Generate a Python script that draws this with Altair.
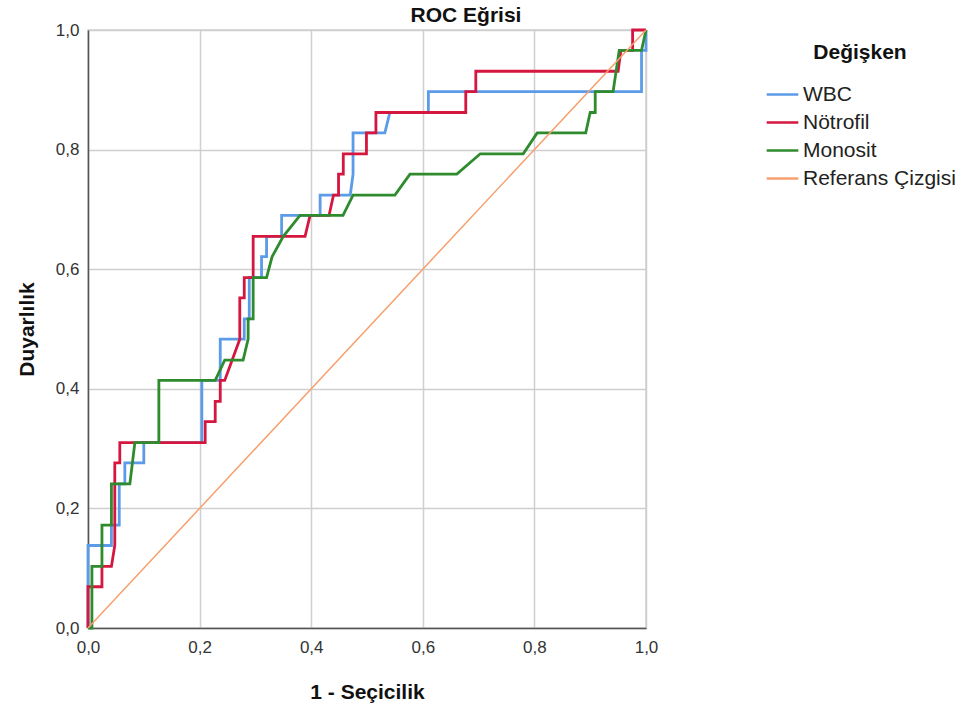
import altair as alt
import pandas as pd

series_names = ["WBC", "Nötrofil", "Monosit", "Referans Çizgisi"]
series_colors = ["#5b9be8", "#d5163f", "#2e8b2e", "#f5a06e"]

wbc_x = [0, 0, 0.042, 0.042, 0.056, 0.056, 0.066, 0.066, 0.100, 0.100, 0.204, 0.204, 0.237, 0.237,
         0.280, 0.280, 0.289, 0.289, 0.311, 0.311, 0.320, 0.320, 0.347, 0.347, 0.416, 0.416,
         0.470, 0.475, 0.475, 0.532, 0.541, 0.610, 0.610, 0.992, 0.992, 1.0, 1.0]
wbc_y = [0, 0.138, 0.138, 0.172, 0.172, 0.241, 0.241, 0.276, 0.276, 0.310, 0.310, 0.414, 0.414, 0.483,
         0.483, 0.517, 0.517, 0.586, 0.586, 0.621, 0.621, 0.655, 0.655, 0.690, 0.690, 0.724,
         0.724, 0.759, 0.828, 0.828, 0.862, 0.862, 0.897, 0.897, 0.966, 0.966, 1.0]

neu_x = [0, 0, 0.025, 0.025, 0.042, 0.048, 0.048, 0.057, 0.057, 0.210, 0.210, 0.228, 0.228, 0.237,
         0.237, 0.245, 0.272, 0.272, 0.280, 0.280, 0.296, 0.296, 0.389, 0.398, 0.432, 0.440,
         0.449, 0.449, 0.4575, 0.4575, 0.499, 0.499, 0.516, 0.516, 0.677, 0.677, 0.695, 0.695,
         0.950, 0.955, 0.976, 0.976, 1.0]
neu_y = [0, 0.069, 0.069, 0.103, 0.103, 0.138, 0.276, 0.276, 0.310, 0.310, 0.345, 0.345, 0.379, 0.379,
         0.414, 0.414, 0.483, 0.552, 0.552, 0.586, 0.586, 0.655, 0.655, 0.690, 0.690, 0.724,
         0.724, 0.759, 0.759, 0.793, 0.793, 0.828, 0.828, 0.862, 0.862, 0.897, 0.897, 0.931,
         0.931, 0.966, 0.966, 1.0, 1.0]

mono_x = [0, 0.007, 0.007, 0.025, 0.025, 0.042, 0.042, 0.075, 0.084, 0.127, 0.127, 0.228, 0.245,
          0.278, 0.287, 0.287, 0.296, 0.296, 0.320, 0.330, 0.350, 0.380, 0.457, 0.475, 0.550,
          0.577, 0.661, 0.703, 0.780, 0.805, 0.892, 0.900, 0.909, 0.909, 0.941, 0.952, 0.992, 1.0]
mono_y = [0, 0, 0.103, 0.103, 0.172, 0.172, 0.241, 0.241, 0.310, 0.310, 0.414, 0.414, 0.448,
          0.448, 0.483, 0.517, 0.517, 0.586, 0.586, 0.621, 0.655, 0.690, 0.690, 0.724, 0.724,
          0.759, 0.759, 0.793, 0.793, 0.828, 0.828, 0.862, 0.862, 0.897, 0.897, 0.966, 0.966, 1.0]

ref_x = [0, 1]
ref_y = [0, 1]

rows = []
for name, xs, ys in zip(series_names, [wbc_x, neu_x, mono_x, ref_x], [wbc_y, neu_y, mono_y, ref_y]):
    for i, (a, b) in enumerate(zip(xs, ys)):
        rows.append({"seri": name, "x": a, "y": b, "i": i})
df = pd.DataFrame(rows)

label_expr = "replace(format(datum.value, '.1f'), '.', ',')"
FONT = "Liberation Sans"

color = alt.Color(
    "seri:N",
    scale=alt.Scale(domain=series_names, range=series_colors),
    legend=alt.Legend(
        title="Değişken", orient="none", legendX=677, legendY=12,
        titleFontSize=21, titleFont=FONT, titleFontWeight="bold", titleColor="#111",
        titleAnchor="middle", titleAlign="center", titlePadding=14,
        labelFontSize=21, labelFont=FONT, labelColor="#222",
        symbolType="stroke", symbolSize=1000, symbolStrokeWidth=2.5, rowPadding=-2,
        labelOffset=3,
    ),
)

base = alt.Chart(df).encode(
    x=alt.X("x:Q", scale=alt.Scale(domain=[0, 1], nice=False),
            axis=alt.Axis(title="1 - Seçicilik", values=[0, 0.2, 0.4, 0.6, 0.8, 1.0],
                          labelExpr=label_expr, titlePadding=26, labelPadding=11,
                          labelFlush=False)),
    y=alt.Y("y:Q", scale=alt.Scale(domain=[0, 1], nice=False),
            axis=alt.Axis(title="Duyarlılık", values=[0, 0.2, 0.4, 0.6, 0.8, 1.0],
                          labelExpr=label_expr, titlePadding=18, labelPadding=9,
                          labelFlush=False)),
    color=color,
    order=alt.Order("i:Q"),
)

layers = []
for name in series_names:
    w = 1.5 if name == "Referans Çizgisi" else 2.8
    layers.append(base.transform_filter(alt.datum.seri == name).mark_line(strokeWidth=w))

chart = alt.layer(*layers).properties(
    width=558, height=598,
    title=alt.Title("ROC Eğrisi", fontSize=21, font=FONT, fontWeight="bold",
                    color="#111", anchor="middle", offset=0, dx=99, dy=5),
    autosize=alt.AutoSizeParams(type="none"),
    padding={"left": 88, "top": 30, "right": 330, "bottom": 85},
).configure_view(stroke="#cfcfcf", strokeWidth=1.5).configure_axis(
    grid=True, gridColor="#cfcfcf", gridWidth=1.5,
    domainColor="#555", domainWidth=1.5, ticks=False,
    labelFont=FONT, labelFontSize=17, labelColor="#333",
    titleFont=FONT, titleFontSize=21, titleFontWeight="bold", titleColor="#111",
)

chart.save("out.html", embed_options={"renderer": "svg", "actions": False})
